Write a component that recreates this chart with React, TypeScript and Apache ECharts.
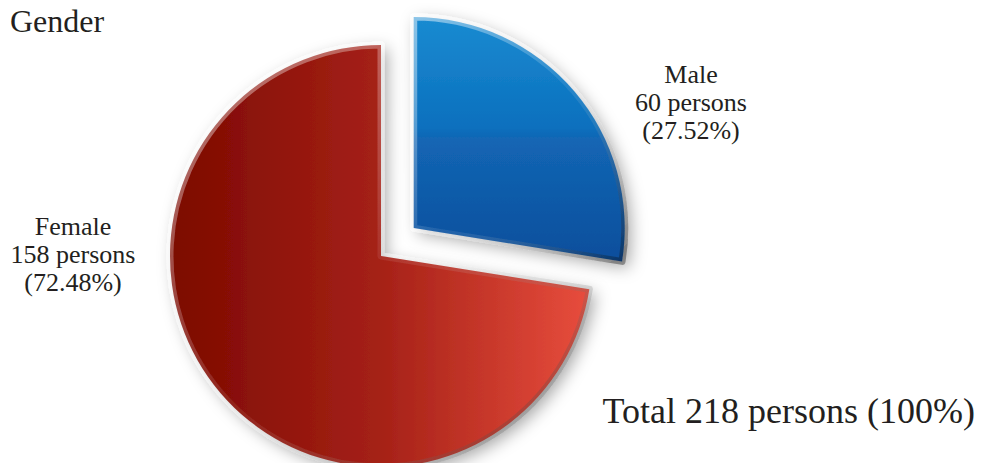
import React, { useEffect, useRef } from "react";
import * as echarts from "echarts";

const categories = ["Male", "Female"];
const persons = [60, 158];
const totalLabel = "Total 218 persons (100%)";
const titleText = "Gender";

const labelPos = [
  { x: 691, y: 102 },
  { x: 73, y: 254 },
];

const fills = [
  new echarts.graphic.LinearGradient(0, 0, 0, 1, [
    { offset: 0, color: "#1a8bd1" },
    { offset: 0.45, color: "#0b70be" },
    { offset: 0.5, color: "#1366b4" },
    { offset: 1, color: "#0a4e9c" },
  ]),
  new echarts.graphic.LinearGradient(0, 0, 1, 0, [
    { offset: 0, color: "#7c0900" },
    { offset: 0.5, color: "#a52117" },
    { offset: 1, color: "#e84d3d" },
  ]),
];

const bevel = new echarts.graphic.LinearGradient(0, 0, 1, 1, [
  { offset: 0, color: "rgba(255,255,255,0.5)" },
  { offset: 0.5, color: "rgba(255,255,255,0.08)" },
  { offset: 1, color: "rgba(0,0,0,0.35)" },
]);

export default function App() {
  const ref = useRef<HTMLDivElement>(null);
  useEffect(() => {
    if (!ref.current) return;
    const chart = echarts.init(ref.current, null, { renderer: "svg" });
    const serif = "'Liberation Serif', 'Times New Roman', serif";
    const total = persons.reduce((a, b) => a + b, 0);
    const labelTexts = categories.map(
      (name, i) =>
        `${name}\n${persons[i]} persons\n(${((persons[i] / total) * 100).toFixed(2)}%)`
    );
    chart.setOption({
      animation: false,
      backgroundColor: "#ffffff",
      graphic: [
        {
          type: "text",
          x: 10,
          y: 21,
          style: {
            text: titleText,
            font: `32px ${serif}`,
            fill: "#231f20",
            textAlign: "left",
            textVerticalAlign: "middle",
          },
        },
        {
          type: "text",
          x: 975,
          y: 411,
          style: {
            text: totalLabel,
            font: `36px ${serif}`,
            fill: "#231f20",
            textAlign: "right",
            textVerticalAlign: "middle",
          },
        },
        ...labelTexts.map((t, i) => ({
          type: "text",
          x: labelPos[i].x,
          y: labelPos[i].y,
          z: 10,
          style: {
            text: t,
            font: `26px ${serif}`,
            lineHeight: 28,
            fill: "#231f20",
            textAlign: "center",
            textVerticalAlign: "middle",
          },
        })),
      ],
      series: [
        {
          type: "pie",
          center: [381, 256],
          radius: [0, 211],
          startAngle: 90,
          clockwise: true,
          selectedMode: "single",
          selectedOffset: 43,
          emphasis: { disabled: true },
          itemStyle: {
            borderWidth: 7,
            borderColor: bevel,
            shadowBlur: 16,
            shadowColor: "rgba(0,0,0,0.35)",
            shadowOffsetX: 5,
            shadowOffsetY: 5,
          },
          label: { show: false },
          labelLine: { show: false },
          data: categories.map((name, i) => ({
            name,
            value: persons[i],
            selected: i === 0,
            itemStyle: { color: fills[i] },
          })),
        },
      ],
    });
    return () => chart.dispose();
  }, []);
  return (
    <div
      ref={ref}
      style={{ position: "absolute", left: 0, top: 0, width: 987, height: 463 }}
    />
  );
}
